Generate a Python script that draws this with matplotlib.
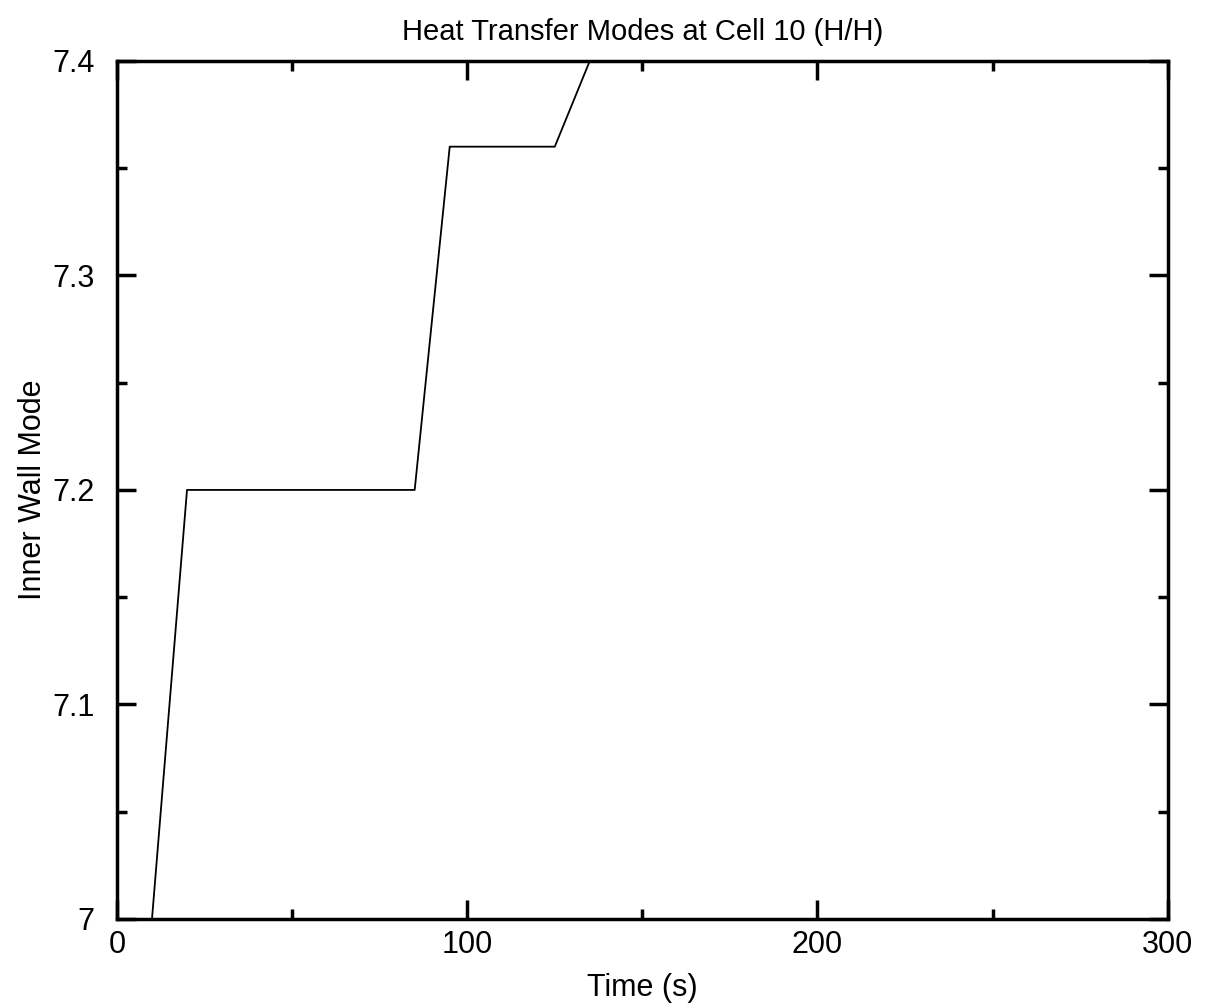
import matplotlib
matplotlib.use("Agg")
from matplotlib import pyplot as plt
from matplotlib.ticker import MultipleLocator

plt.rcParams['font.family'] = ['Liberation Sans', 'DejaVu Sans']

# inner wall mode history at cell 10
time_s = [0, 10, 20, 85, 95, 125, 135]
wall_mode = [7.0, 7.0, 7.2, 7.2, 7.36, 7.36, 7.4]

fig = plt.figure(figsize=(12.12, 10.06), dpi=100)
ax = fig.add_axes([0.0965, 0.0865, 0.867, 0.853])

ax.plot(time_s, wall_mode, color='black', linewidth=1.3)

ax.set_xlim(0, 300)
ax.set_ylim(7.0, 7.4)
ax.xaxis.set_major_locator(MultipleLocator(100))
ax.xaxis.set_minor_locator(MultipleLocator(50))
ax.yaxis.set_minor_locator(MultipleLocator(0.05))
ax.set_yticks([7.0, 7.1, 7.2, 7.3, 7.4])
ax.set_yticklabels(['7', '7.1', '7.2', '7.3', '7.4'])

ax.tick_params(which='both', direction='in', top=True, right=True, width=2.5, labelsize=22)
ax.tick_params(axis='x', which='major', length=14, pad=8)
ax.tick_params(axis='y', which='major', length=14, pad=16)
ax.tick_params(which='minor', length=7)
for s in ax.spines.values():
    s.set_linewidth(2.5)

ax.set_xlabel('Time (s)', fontsize=22, labelpad=9)
ax.set_ylabel('Inner Wall Mode', fontsize=22, labelpad=3)
ax.set_title('Heat Transfer Modes at Cell 10 (H/H)', fontsize=21, pad=15)

fig.savefig('out.png', dpi=100)
